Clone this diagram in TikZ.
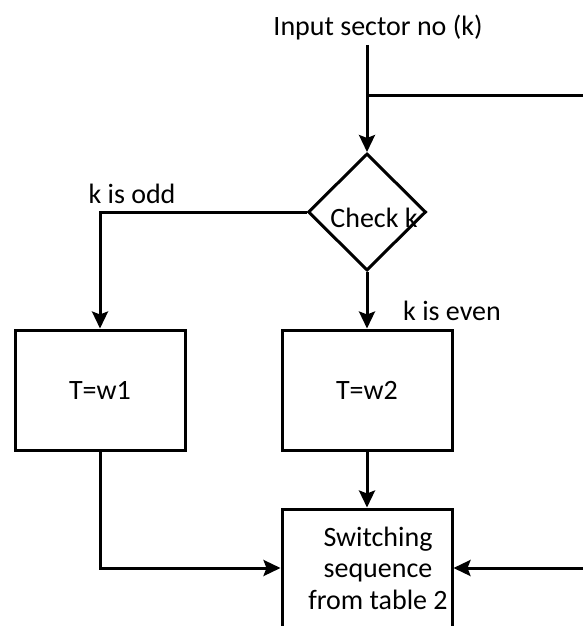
\documentclass[tikz,border=0pt]{standalone}
\usepackage{fontspec}
\setmainfont{Carlito}
\usetikzlibrary{arrows.meta,shapes.geometric}
\begin{document}
\begin{tikzpicture}[x=1pt,y=-1pt,line width=3pt,
		font=\fontsize{28}{31.5}\selectfont,
		block/.style={draw,rectangle,minimum width=170pt,minimum height=120pt,inner sep=0pt},
		decision/.style={draw,diamond,minimum width=118pt,minimum height=117pt,inner sep=0pt},
		flow/.style={-{Stealth[length=17pt,width=16pt,inset=3pt]}}]
		\useasboundingbox (0,0) rectangle (582,626);
		\node (input) at (378,28) {Input sector no (k)};
		\coordinate (start) at (367,45);
		\coordinate (split) at (367,95);
		\coordinate (loop) at (586,568);
		\node [decision] (check) at (367,212) {};
		\node (checktxt) at (374,218) {Check k};
		\node [block] (odd) at (100,390) {T=w1};
		\node [block] (even) at (367,390) {T=w2};
		\node [block,minimum height=118pt] (switch) at (367,568) {};
		\node [align=center] (switchtxt) at (378,568) {Switching\\sequence\\from table 2};
		\draw [flow] (start) to (check.north);
		\draw [flow] (split) -| (loop) to (switch.east);
		\draw [flow] (check.west) -| (odd.north);
		\draw [flow] (check.south) to (even.north);
		\draw [flow] (odd.south) |- (switch.west);
		\draw [flow] (even.south) to (switch.north);
		\node (oddtxt) at (132,194) {k is odd};
		\node (eventxt) at (452,311) {k is even};
	\end{tikzpicture}
\end{document}
